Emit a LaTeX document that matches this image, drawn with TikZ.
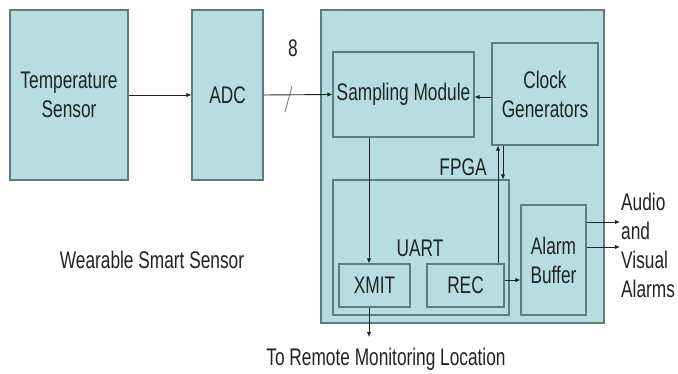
\documentclass[tikz,border=0pt]{standalone}
\usepackage{fontspec}
\setmainfont{Liberation Sans}[FakeStretch=0.72]
\usetikzlibrary{arrows.meta,calc}
\definecolor{boxfill}{HTML}{B6DDE1}
\definecolor{boxline}{HTML}{5F7C80}
\definecolor{txt}{HTML}{222222}
\tikzset{
  blk/.style={draw=boxline, fill=boxfill, line width=1.2pt, inner sep=0pt, anchor=center},
  lbl/.style={font=\fontsize{24}{29}\selectfont, text=txt, inner sep=0pt, align=center},
  arr/.style={draw=txt, line width=0.9pt, -{Latex[length=5pt,width=4.5pt]}},
  ln/.style={draw=txt, line width=0.9pt}
}
\begin{document}
\begin{tikzpicture}[x=1pt,y=-1pt]
\useasboundingbox[fill=white] (0,0) rectangle (678,374);
% outer blocks
\node[blk, minimum width=118pt, minimum height=170pt] (temp) at (69,95) {};
\node[lbl] at (temp.center) {Temperature\\Sensor};
\node[blk, minimum width=71pt, minimum height=170pt] (adc) at (227.5,95) {};
\node[lbl] at (adc.center) {ADC};
\node[blk, minimum width=283pt, minimum height=313pt] (fpga) at (462.5,166.5) {};
% inner blocks
\node[blk, minimum width=141pt, minimum height=85pt] (samp) at (403.5,94.5) {};
\node[lbl] at (samp.center) {Sampling Module};
\node[blk, minimum width=106pt, minimum height=102pt] (clock) at (545,94) {};
\node[lbl] at (clock.center) {Clock\\Generators};
\node[blk, minimum width=176pt, minimum height=135pt] (uart) at (421,247.5) {};
\node[blk, minimum width=71pt, minimum height=43pt] (xmit) at (374.5,285.5) {};
\node[lbl] at (xmit.center) {XMIT};
\node[blk, minimum width=77pt, minimum height=43pt] (rec) at (465.5,285.5) {};
\node[lbl] at (rec.center) {REC};
\node[blk, minimum width=65pt, minimum height=110pt] (alarm) at (553.5,260) {};
\node[lbl] at (alarm.center) {Alarm\\Buffer};
% labels
\node[lbl] (fpgal) at (463,167) {FPGA};
\node[lbl] (uartl) at (420,248) {UART};
\node[lbl] (eight) at (293,48) {8};
\node[lbl] (wss) at (152,260) {Wearable Smart Sensor};
\node[lbl] (remote) at (386,359) {To Remote Monitoring Location};
\node[lbl, align=left, anchor=north west] (out) at (621,193) {Audio\\and\\Visual\\Alarms};
% helper coordinates
\coordinate (xc) at (369,0);
\coordinate (c1) at (498,0);
\coordinate (c2) at (503,0);
\coordinate (yr) at (0,280);
\coordinate (ya) at (0,222);
\coordinate (yb) at (0,247);
\coordinate (ob) at (620,0);
\coordinate (rb) at (0,337);
% connectors
\draw[arr] (temp.east) -- (adc.west);
\draw[arr] (adc.east) -- (samp.west);
\draw[draw=gray, line width=0.9pt] (285,112) -- (292,86);
\draw[arr] (clock.west |- 0,97) -- (samp.east |- 0,97);
\draw[arr] (samp.south -| xc) -- (xmit.north -| xc);
\draw[arr] (rec.north -| c1) -- (clock.south -| c1);
\draw[arr] (clock.south -| c2) -- (uart.north -| c2);
\draw[arr] (rec.east |- yr) -- (alarm.west |- yr);
\draw[arr] (alarm.east |- ya) -- (ob |- ya);
\draw[arr] (alarm.east |- yb) -- (ob |- yb);
\draw[arr] (xmit.south -| xc) -- (rb -| xc);
\end{tikzpicture}
\end{document}
